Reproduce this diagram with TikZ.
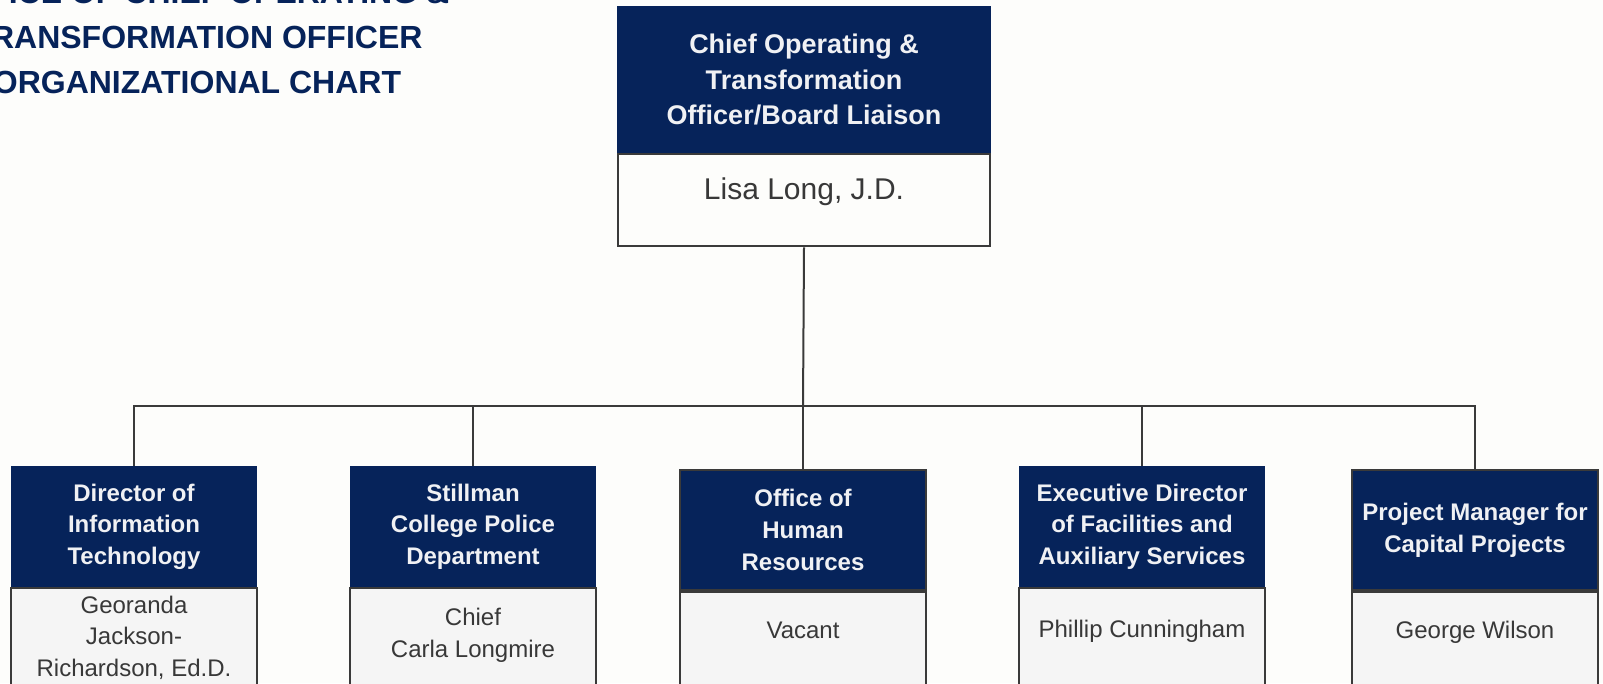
\documentclass[tikz,border=0pt]{standalone}
\usepackage{fontspec}
\setmainfont{Liberation Sans}
\usetikzlibrary{backgrounds}
\definecolor{navy}{HTML}{06235A}
\definecolor{headtext}{HTML}{F0F1F4}
\definecolor{ink}{HTML}{383838}
\definecolor{edge}{HTML}{3A3A3A}
\definecolor{namefill}{HTML}{F5F5F5}
\definecolor{paper}{HTML}{FDFDFB}
\begin{document}
\begin{tikzpicture}[x=1pt,y=-1pt]
    % `band' is the dark title strip of a box.
    % `person' is the light part under it, holding the name.
    % `link' is used for the connecting lines.
    \tikzstyle{band} = [fill=navy,text=headtext,align=center,inner sep=0pt,anchor=north,minimum width=246pt,minimum height=121pt,font=\bfseries\fontsize{24}{31.7}\selectfont]
    \tikzstyle{person} = [draw=edge,line width=2pt,fill=namefill,text=ink,align=center,inner sep=0pt,anchor=north,minimum width=246pt,text depth=150pt,font=\fontsize{24}{31.7}\selectfont]
    \tikzstyle{link} = [draw=edge,line width=2pt]
    \tikzstyle{heading} = [text=navy,align=center,anchor=base,inner sep=0pt,font=\bfseries\fontsize{32}{45}\selectfont]
    %
    \path[use as bounding box] (0,0) rectangle (1603,683);
    \clip (0,0) rectangle (1603,683);
    \node[heading] (heading) at (197,93) {OFFICE OF CHIEF OPERATING \&\\TRANSFORMATION OFFICER\\ORGANIZATIONAL CHART};

    % Head of the office.
    \node[band,minimum width=374pt,minimum height=147pt,font=\bfseries\fontsize{27}{35.5}\selectfont] (coo) at (804,6) {Chief Operating \&\\Transformation\\Officer/Board Liaison};
    \node[person,minimum width=372pt,fill=paper,text height=45pt,text depth=47pt,font=\fontsize{30}{34}\selectfont] (cooName) at (coo.south) {Lisa Long, J.D.};

    % The five offices reporting to it.
    \node[band] (it) at (134,466) {Director of\\Information\\Technology};
    \node[person,text height=88pt] (itName) at (it.south) {Georanda\\Jackson-\\Richardson, Ed.D.};

    \node[band] (police) at (473,466) {Stillman\\College Police\\Department};
    \node[person,text height=69pt] (policeName) at (police.south) {Chief\\Carla Longmire};

    \node[band,draw=edge,line width=2pt,minimum height=120pt] (hr) at (803,469) {Office of\\Human\\Resources};
    \node[person,text height=46pt] (hrName) at (hr.south) {Vacant};

    \node[band] (facilities) at (1142,466) {Executive Director\\of Facilities and\\Auxiliary Services};
    \node[person,text height=49pt] (facilitiesName) at (facilities.south) {Phillip Cunningham};

    \node[band,draw=edge,line width=2pt,minimum height=120pt] (capital) at (1475,469) {Project Manager for\\Capital Projects};
    \node[person,text height=46pt] (capitalName) at (capital.south) {George Wilson};

    \begin{pgfonlayer}{background}
        % Page colour.
        \fill[paper] (0,0) rectangle (1603,683);
        % Draw lines.
        \coordinate (hub) at (803,406);
        \draw[link] (cooName.south) -- (hub);
        \draw[link] (hub) -| (it.north)  (hub) -| (police.north)
                    (hub) -| (hr.north)  (hub) -| (facilities.north)
                    (hub) -| (capital.north);
    \end{pgfonlayer}
\end{tikzpicture}
\end{document}
